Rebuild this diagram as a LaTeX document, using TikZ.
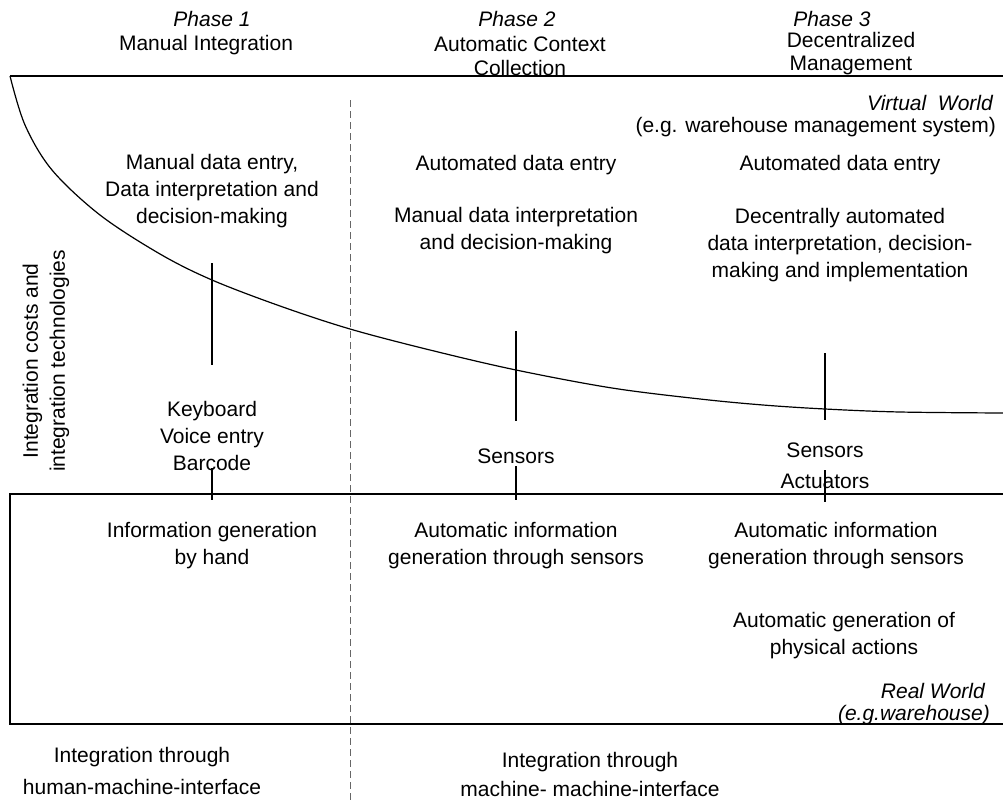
\documentclass[tikz,border=0pt]{standalone}
\usepackage{fontspec}
\setmainfont{Liberation Sans}
\begin{document}
\begin{tikzpicture}[x=1pt,y=-1pt,
  txt/.style={font=\fontsize{21}{27}\selectfont, align=center, inner sep=0pt, anchor=center},
  itxt/.style={txt, font=\fontsize{21}{27}\selectfont\itshape},
  ln/.style={line width=1.2pt, black},
  dsh/.style={line width=1pt, black!60, dash pattern=on 7pt off 4pt}]
\useasboundingbox (0,0) rectangle (1003,803);
% frame lines
\coordinate (tl) at (10,76);
\coordinate (tr) at (1003,76);
\draw[ln] (tl) -- (tr);
\draw[ln] plot[smooth, tension=0.55] coordinates {(10,76) (25,125) (52,170) (100,215) (160,254) (212,280) (280,306) (350,329) (430,350) (516,370) (612,388) (700,399) (763,405) (825,409) (900,412) (1003,413)};
\coordinate (r1) at (1003,494);
\coordinate (r2) at (10,494);
\coordinate (r3) at (10,724);
\coordinate (r4) at (1003,724);
\draw[ln] (r1) -- (r2) -- (r3) -- (r4);
% dashed divider
\coordinate (d1) at (350,100);
\coordinate (d2) at (350,803);
\draw[dsh] (d1) -- (d2);
% vertical markers
\coordinate (v1t) at (212,263); \coordinate (v1b) at (212,365);
\coordinate (v2t) at (516,331); \coordinate (v2b) at (516,421);
\coordinate (v3t) at (825,353); \coordinate (v3b) at (825,420);
\coordinate (t1t) at (212,468); \coordinate (t1b) at (212,500);
\coordinate (t2t) at (516,466); \coordinate (t2b) at (516,500);
\coordinate (t3t) at (825,470); \coordinate (t3b) at (825,502);
\draw[ln] (v1t) -- (v1b);
\draw[ln] (v2t) -- (v2b);
\draw[ln] (v3t) -- (v3b);
\draw[ln] (t1t) -- (t1b);
\draw[ln] (t2t) -- (t2b);
\draw[ln] (t3t) -- (t3b);
% headers
\node[itxt] (p1) at (212,19) {Phase 1};
\node[txt] (p1t) at (206,45) {Manual Integration};
\node[itxt] (p2) at (517,19) {Phase 2};
\node[txt, font=\fontsize{21}{24}\selectfont] (p2t) at (520,56) {Automatic Context\\Collection};
\node[itxt] (p3) at (832,19) {Phase 3};
\node[txt, font=\fontsize{21}{23}\selectfont] (p3t) at (851,54) {Decentralized\\Management};
% virtual world
\node[itxt, anchor=east] (vw) at (993,103) {Virtual\ \ World};
\node[txt, anchor=east] (vwe) at (996,127) {(e.g. warehouse management system)};
% phase texts
\node[txt] (a1) at (212,191) {Manual data entry,\\Data interpretation and\\decision-making};
\node[txt] (a2) at (516,165) {Automated data entry};
\node[txt] (a2b) at (516,231) {Manual data interpretation\\and decision-making};
\node[txt] (a3) at (840,165) {Automated data entry};
\node[txt] (a3b) at (840,245) {Decentrally automated\\data interpretation, decision-\\making and implementation};
% side label
\node[txt, rotate=90] (side) at (46,361) {Integration costs and\\integration technologies};
% technologies
\node[txt] (k1) at (212,436) {Keyboard\\Voice entry\\Barcode};
\node[txt] (s2) at (516,456) {Sensors};
\node[txt, font=\fontsize{21}{31}\selectfont] (s3) at (825,466) {Sensors\\Actuators};
% real world texts
\node[txt] (b1) at (212,546) {Information generation\\by hand};
\node[txt] (b2) at (516,546) {Automatic information\\generation through sensors};
\node[txt] (b3) at (836,546) {Automatic information\\generation through sensors};
\node[txt] (b3b) at (844,636) {Automatic generation of\\physical actions};
\node[itxt, anchor=east] (rw) at (985,691) {Real World};
\node[itxt, anchor=east] (rwe) at (990,715) {(e.g.warehouse)};
% bottom
\node[txt, font=\fontsize{21}{32}\selectfont] (i1) at (142,771) {Integration through\\human-machine-interface};
\node[txt, font=\fontsize{21}{29}\selectfont] (i2) at (590,774) {Integration through\\machine- machine-interface};
\end{tikzpicture}
\end{document}
